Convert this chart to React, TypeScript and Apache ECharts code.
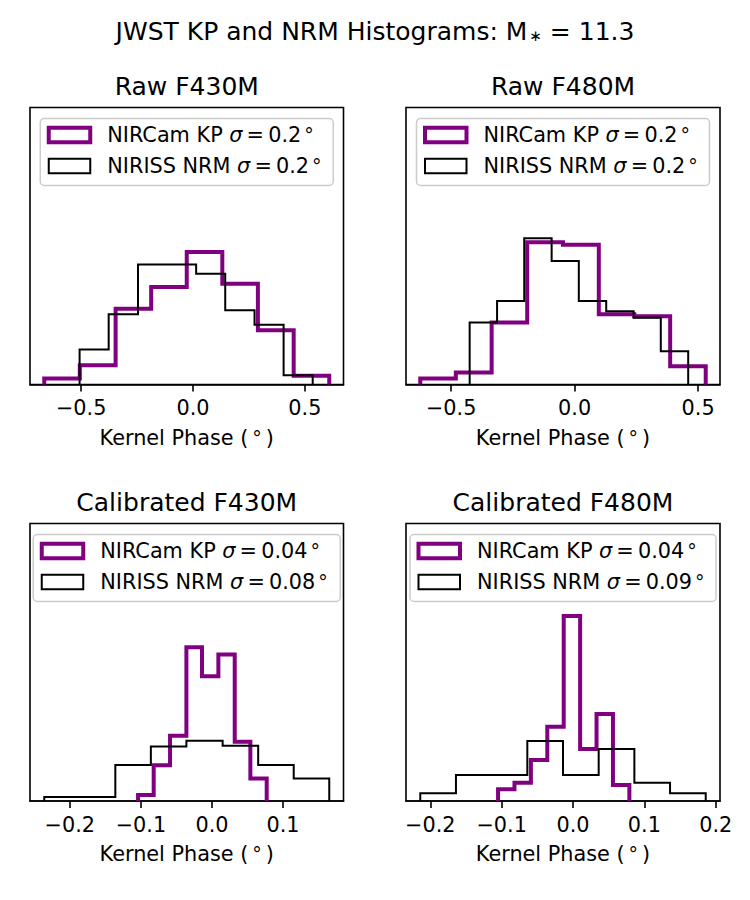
import React, { useEffect, useRef } from 'react';
import * as echarts from 'echarts';

// ---------- data ----------
// Raw F430M
const raw430KpEdges = [-0.665, -0.506, -0.346, -0.187, -0.028, 0.131, 0.29, 0.45, 0.609];
const raw430KpDensity = [0.077, 0.247, 0.969, 1.245, 1.692, 1.288, 0.693, 0.111];
const raw430NrmEdges = [-0.507, -0.377, -0.246, -0.116, 0.014, 0.144, 0.275, 0.405, 0.535];
const raw430NrmDensity = [0.446, 0.897, 1.534, 1.534, 1.415, 0.948, 0.765, 0.119];
const raw430YMax = 3.54;

// Raw F480M
const raw480KpEdges = [-0.625, -0.481, -0.336, -0.192, -0.047, 0.098, 0.242, 0.387, 0.531];
const raw480KpDensity = [0.08, 0.161, 0.83, 1.909, 1.873, 0.941, 0.914, 0.245];
const raw480NrmEdges = [-0.425, -0.314, -0.204, -0.093, 0.017, 0.128, 0.239, 0.349, 0.46];
const raw480NrmDensity = [0.83, 1.119, 1.962, 1.655, 1.119, 0.981, 0.896, 0.446];
const raw480YMax = 3.715;

// Calibrated F430M
const cal430KpEdges = [-0.104, -0.082, -0.059, -0.036, -0.014, 0.009, 0.032, 0.054, 0.077];
const cal430KpDensity = [0.437, 2.6, 4.739, 11.178, 9.064, 10.643, 4.301, 1.628];
const cal430NrmEdges = [-0.236, -0.186, -0.136, -0.086, -0.036, 0.015, 0.065, 0.115, 0.165];
const cal430NrmDensity = [0.292, 0.292, 2.624, 3.961, 4.374, 4.01, 2.624, 1.628];
const cal430YMax = 20.17;

// Calibrated F480M
const cal480KpEdges = [-0.105, -0.082, -0.059, -0.036, -0.013, 0.01, 0.033, 0.056, 0.079];
const cal480KpDensity = [1.043, 1.639, 3.665, 6.645, 16.539, 4.649, 7.778, 1.43];
const cal480NrmEdges = [-0.214, -0.164, -0.114, -0.064, -0.014, 0.036, 0.086, 0.136, 0.186];
const cal480NrmDensity = [0.685, 2.324, 2.324, 5.364, 2.324, 4.649, 1.639, 0.685];
const cal480YMax = 24.82;

const panelTitles = ['Raw F430M', 'Raw F480M', 'Calibrated F430M', 'Calibrated F480M'];
const kpSigmas = ['0.2', '0.2', '0.04', '0.04'];
const nrmSigmas = ['0.2', '0.2', '0.08', '0.09'];
const rawTicks = [-0.5, 0, 0.5];
const calTicks = [-0.2, -0.1, 0, 0.1, 0.2];
const suptitleMain = 'JWST KP and NRM Histograms: M';
const suptitleValue = '11.3';
const xLabel = 'Kernel Phase (';

// ---------- styling / layout ----------
const FONT = 'DejaVu Sans';
const PURPLE = '#800080';
const KP_WIDTH = 4;
const NRM_WIDTH = 2;
const THIN = '\u2009';
const LAYOUT = [
  { left: 30, top: 107.5, width: 313.5, height: 277, legendW: 293 },
  { left: 406, top: 107.5, width: 314, height: 277, legendW: 293 },
  { left: 30, top: 523.5, width: 313.5, height: 277.5, legendW: 307 },
  { left: 406, top: 523.5, width: 314, height: 277.5, legendW: 306 },
];

const panels = [
  { kpE: raw430KpEdges, kp: raw430KpDensity, nrmE: raw430NrmEdges, nrm: raw430NrmDensity, yMax: raw430YMax, ticks: rawTicks },
  { kpE: raw480KpEdges, kp: raw480KpDensity, nrmE: raw480NrmEdges, nrm: raw480NrmDensity, yMax: raw480YMax, ticks: rawTicks },
  { kpE: cal430KpEdges, kp: cal430KpDensity, nrmE: cal430NrmEdges, nrm: cal430NrmDensity, yMax: cal430YMax, ticks: calTicks },
  { kpE: cal480KpEdges, kp: cal480KpDensity, nrmE: cal480NrmEdges, nrm: cal480NrmDensity, yMax: cal480YMax, ticks: calTicks },
];

function outline(edges: number[], dens: number[]) {
  const pts: number[][] = [[edges[0], 0]];
  for (let i = 0; i < dens.length; i++) {
    pts.push([edges[i], dens[i]]);
    pts.push([edges[i + 1], dens[i]]);
  }
  pts.push([edges[edges.length - 1], 0]);
  return pts;
}

function fmt(v: number) {
  if (Math.abs(v) < 1e-9) return '0.0';
  return (v < 0 ? '\u2212' : '') + Math.abs(v).toFixed(1);
}

const richBase = {
  n: { fontSize: 20.8, fontFamily: FONT, fill: '#000' },
  s: { fontSize: 20.8, fontFamily: FONT, fontStyle: 'italic', fill: '#000' },
  d: { fontSize: 19, fontFamily: FONT, fill: '#000', padding: [0, 0, 0, 3] },
};

function legendLabel(name: string, sigma: string) {
  return `{n|${name} }{s|\u03c3}{n|${THIN}=${THIN}${sigma}}{d|\u00b0}`;
}

export default function App() {
  const ref = useRef<HTMLDivElement>(null);
  useEffect(() => {
    document.body.style.margin = '0';
    const chart = echarts.init(ref.current!, null, { renderer: 'svg' });
    const grid: any[] = [];
    const xAxis: any[] = [];
    const yAxis: any[] = [];
    const series: any[] = [];
    const graphic: any[] = [];

    graphic.push({
      type: 'text',
      x: 375,
      y: 31,
      style: {
        text: `{t|${suptitleMain}}{sub|\u2217}{t| = ${suptitleValue}}`,
        align: 'center',
        verticalAlign: 'middle',
        rich: {
          t: { fontSize: 25, fontFamily: FONT, fill: '#000' },
          sub: { fontSize: 15, fontFamily: FONT, fill: '#000', verticalAlign: 'bottom', padding: [6, 0, 0, 2] },
        },
      },
    });

    panels.forEach((p, i) => {
      const L = LAYOUT[i];
      const lo = Math.min(p.kpE[0], p.nrmE[0]);
      const hi = Math.max(p.kpE[p.kpE.length - 1], p.nrmE[p.nrmE.length - 1]);
      const pad = 0.05 * (hi - lo);
      const xmin = lo - pad;
      const xmax = hi + pad;
      const vis = p.ticks.filter((t) => t >= xmin && t <= xmax);
      grid.push({
        left: L.left, top: L.top, width: L.width, height: L.height,
        show: true, borderColor: '#000', borderWidth: 1.6, backgroundColor: 'transparent',
        containLabel: false, outerBoundsMode: 'none',
      });
      xAxis.push({
        type: 'value', gridIndex: i, min: xmin, max: xmax,
        axisLine: { show: true, onZero: false, lineStyle: { color: '#000', width: 1.6 } },
        axisTick: { show: true, customValues: vis, length: 7, lineStyle: { color: '#000', width: 1.6 } },
        axisLabel: { show: true, customValues: vis, formatter: fmt, fontSize: 20.8, fontFamily: FONT, color: '#000', margin: 13 },
        splitLine: { show: false },
      });
      yAxis.push({
        type: 'value', gridIndex: i, min: 0, max: p.yMax,
        axisLine: { show: false }, axisTick: { show: false }, axisLabel: { show: false }, splitLine: { show: false },
      });
      series.push({
        type: 'line', name: `NIRCam KP ${i}`, xAxisIndex: i, yAxisIndex: i,
        data: outline(p.kpE, p.kp), showSymbol: false, symbol: 'none',
        lineStyle: { color: PURPLE, width: KP_WIDTH, join: 'miter', cap: 'butt' },
        itemStyle: { color: PURPLE }, z: 2,
      });
      series.push({
        type: 'line', name: `NIRISS NRM ${i}`, xAxisIndex: i, yAxisIndex: i,
        data: outline(p.nrmE, p.nrm), showSymbol: false, symbol: 'none',
        lineStyle: { color: '#000', width: NRM_WIDTH, join: 'miter', cap: 'butt' },
        itemStyle: { color: '#000' }, z: 3,
      });

      const cx = L.left + L.width / 2;
      // subplot title
      graphic.push({
        type: 'text', x: cx, y: L.top - 21.5,
        style: { text: panelTitles[i], fontSize: 25, fontFamily: FONT, fill: '#000', align: 'center', verticalAlign: 'middle' },
      });
      // x label
      graphic.push({
        type: 'text', x: cx, y: L.top + L.height + 53,
        style: {
          text: `{n|${xLabel}}{d|\u00b0}{n|)}`,
          align: 'center', verticalAlign: 'middle',
          rich: { n: richBase.n, d: { ...richBase.d, padding: [0, 4, 0, 4] } },
        },
      });
      // legend
      const lx = cx - L.legendW / 2;
      const ly = L.top + 11;
      graphic.push({
        type: 'rect', z: 10,
        shape: { x: lx, y: ly, width: L.legendW, height: 67, r: 4 },
        style: { fill: 'rgba(255,255,255,0.8)', stroke: '#cccccc', lineWidth: 1.5 },
      });
      const rows = [
        { y: ly + 16.5, color: PURPLE, w: KP_WIDTH, label: legendLabel('NIRCam KP', kpSigmas[i]) },
        { y: ly + 47.5, color: '#000', w: NRM_WIDTH, label: legendLabel('NIRISS NRM', nrmSigmas[i]) },
      ];
      rows.forEach((r) => {
        graphic.push({
          type: 'rect', z: 11,
          shape: { x: lx + 8.5, y: r.y - 7.3, width: 41.5, height: 14.6 },
          style: { fill: 'none', stroke: r.color, lineWidth: r.w, lineJoin: 'miter' },
        });
        graphic.push({
          type: 'text', z: 11, x: lx + 67, y: r.y,
          style: { text: r.label, align: 'left', verticalAlign: 'middle', rich: richBase },
        });
      });
    });

    chart.setOption({
      animation: false,
      backgroundColor: '#ffffff',
      grid, xAxis, yAxis, series, graphic,
    });
    return () => chart.dispose();
  }, []);
  return <div ref={ref} style={{ position: 'absolute', left: 0, top: 0, width: 750, height: 900, background: '#fff' }} />;
}
